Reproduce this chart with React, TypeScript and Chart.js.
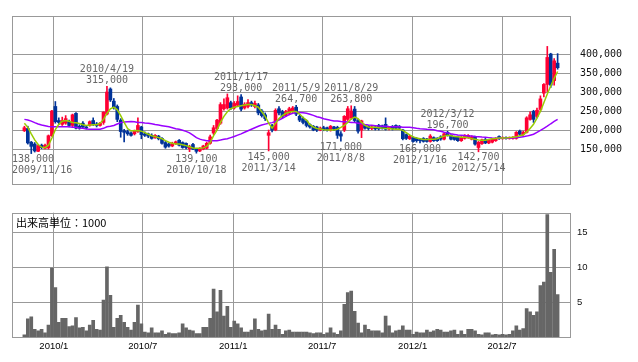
import React, { useEffect, useRef } from "react";
import { Chart, registerables } from "chart.js";

Chart.register(...registerables);

// Weekly candles, first week 2009/11/2 (index 0). Prices in 1,000 yen.
const openK = [
  198, 204, 168, 163, 144, 160, 152, 153, 185, 262,
  225, 215, 218, 222, 212, 244, 210, 218, 208, 212,
  225, 216, 212, 220, 242, 308, 276, 262, 226, 198,
  196, 192, 190, 196, 208, 190, 190, 186, 180, 184,
  178, 167, 163, 158, 164, 173, 167, 165, 151, 162,
  150, 145, 150, 152, 165, 192, 204, 218, 256, 258,
  272, 258, 265, 287, 258, 262, 272, 262, 266, 250,
  240, 186, 212, 200, 256, 248, 238, 244, 250, 260,
  236, 230, 224, 214, 210, 208, 200, 206, 206, 200,
  208, 207, 190, 200, 228, 232, 255, 225, 200, 212,
  210, 204, 208, 212, 211, 215, 203, 209, 212, 210,
  200, 188, 177, 180, 178, 175, 178, 176, 170, 180,
  178, 182, 176, 194, 186, 182, 182, 172, 178, 180,
  176, 182, 154, 164, 175, 166, 168, 172, 183, 177,
  180, 178, 178, 178, 197, 188, 194, 228, 249, 236,
  254, 297, 320, 400, 330, 376,
];
const highK = [
  210, 210, 170, 167, 161, 163, 163, 187, 252, 275,
  232, 234, 238, 226, 242, 246, 214, 222, 212, 224,
  232, 220, 220, 248, 315, 311, 283, 266, 230, 202,
  200, 195, 200, 232, 210, 195, 192, 190, 188, 186,
  180, 170, 165, 168, 171, 175, 169, 166, 160, 165,
  152, 154, 160, 168, 187, 212, 228, 272, 282, 295,
  276, 275, 290, 293, 272, 280, 276, 276, 270, 254,
  245, 200, 215, 256, 262, 252, 252, 260, 262, 264.7,
  240, 234, 226, 216, 212, 210, 208, 210, 208, 212,
  210, 210, 196, 238, 262, 263.8, 262, 228, 226, 215,
  212, 210, 212, 215, 213, 232, 210, 212, 214, 212,
  202, 190, 186, 182, 180, 178, 180, 178, 188, 182,
  180, 185, 192, 196.7, 188, 184, 184, 183, 188, 188,
  185, 184, 170, 176, 178, 175, 178, 180, 185, 182,
  182, 182, 183, 196, 200, 197, 235, 248, 252, 258,
  290, 322, 420, 402, 388, 401,
];
const lowK = [
  196, 163, 138, 142, 143, 151, 150, 150, 183, 218,
  214, 212, 215, 208, 209, 203, 202, 205, 203, 210,
  212, 208, 210, 215, 240, 275, 255, 222, 181, 169,
  186, 184, 187, 194, 177, 183, 180, 176, 178, 174,
  163, 152, 155, 156, 162, 158, 152, 150, 143, 148,
  139.1, 143, 148, 150, 163, 188, 200, 215, 252, 255,
  254, 255, 262, 250, 255, 258, 262, 258, 240, 234,
  225, 145, 195, 198, 240, 232, 235, 240, 246, 238,
  222, 216, 208, 205, 198, 196, 198, 198, 197, 197,
  198, 178, 171, 196, 225, 228, 220, 192, 180, 202,
  200, 201, 200, 200, 202, 200, 200, 200, 202, 202,
  174, 175, 175, 168, 168, 166, 168, 168, 168, 170,
  170, 173, 174, 184, 174, 173, 170, 170, 176, 178,
  174, 160, 142.7, 162, 164, 164, 166, 170, 175, 176,
  176, 176, 176, 176, 186, 186, 192, 226, 220, 232,
  250, 287, 300, 312, 318, 360,
];
const closeK = [
  206, 166, 157, 145, 159, 154, 160, 185, 250, 222,
  220, 225, 230, 212, 240, 205, 205, 208, 205, 222,
  215, 212, 218, 247, 300, 279, 260, 228, 196, 194,
  190, 186, 198, 212, 188, 186, 184, 178, 186, 177,
  165, 155, 158, 165, 169, 160, 154, 154, 157, 150,
  144, 152, 158, 165, 182, 206, 226, 267, 267, 285,
  258, 270, 275, 255, 268, 272, 266, 270, 245, 238,
  230, 193, 200, 252, 245, 236, 248, 256, 258, 242,
  226, 220, 212, 208, 200, 200, 205, 201, 200, 210,
  203, 186, 184, 236, 256, 250, 225, 197, 224, 205,
  204, 208, 203, 203, 205, 202, 208, 203, 205, 205,
  177, 178, 184, 170, 172, 172, 170, 170, 184, 172,
  172, 176, 190, 186, 176, 175, 172, 180, 186, 186,
  182, 163, 168, 174, 166, 173, 176, 178, 177, 180,
  178, 180, 181, 194, 189, 194, 232, 240, 228, 252,
  282, 320, 391, 318, 382, 364,
];
// 13-week moving average (green) in 1,000 yen
const ma13K = [
  218, 207, 190, 174, 162, 155, 153.5, 160, 179, 201,
  215, 223, 225, 223, 220, 219, 217, 214, 212, 213,
  214, 214, 218, 228, 244, 256, 260, 253, 238, 220,
  204, 198, 198, 199, 197, 193, 189, 185, 183, 180,
  177, 172, 168, 165, 163, 163, 161, 159, 156, 153,
  152, 152, 153, 157, 167, 185, 200, 220, 236, 248,
  256, 260, 262, 264, 266, 267, 267, 264, 260, 248,
  236, 218, 205, 218, 230, 238, 244, 247, 249, 249,
  242, 233, 226, 214, 208, 204, 203, 201, 200, 200,
  200, 202, 207, 212, 220, 229, 234, 230, 220, 212,
  208, 207, 207, 206, 205, 204, 204, 203, 202, 202,
  199, 193, 187, 182, 179, 177, 175, 175, 176, 176,
  177, 181, 184, 186, 185, 183, 182, 181, 181, 180,
  177, 176, 174, 173, 173, 175, 177, 178, 179, 179,
  179, 180, 181, 182, 185, 187, 195, 204, 215, 231,
  249, 272, 295, 316, 336, 354,
];
// 26-week moving average (purple) in 1,000 yen
const ma26K = [
  228, 226.5, 223.5, 219.5, 216, 213, 211, 209, 208.5, 208.5,
  208.5, 208.5, 208.5, 208.5, 207.5, 207, 205, 204.5, 203, 202,
  202, 202, 202, 204.5, 208.5, 210, 212, 216, 219.5, 221,
  222, 222.5, 222, 220, 219.5, 218.5, 218, 216.5, 214.5, 213,
  211.5, 210, 208.5, 206, 203.5, 202, 199.5, 196.5, 192.5, 186.5,
  180, 176, 173.5, 172, 171.5, 171.5, 172, 173.5, 175.5, 177,
  180, 183, 186.5, 190, 194, 198, 202, 206, 210, 213,
  215.5, 218, 219.5, 222.5, 226.5, 231, 236, 240.5, 244, 246,
  246, 245.5, 244, 241.5, 238.5, 235, 233, 229.5, 227.5, 225.5,
  224, 223.5, 222.5, 222, 221, 220, 219.5, 218, 216.5, 214.5,
  213, 212.5, 211.5, 210.5, 210, 210, 209, 208.5, 208.5, 208.5,
  207.5, 207.5, 207, 206, 204.5, 203.5, 203, 202, 201.5, 200.5,
  198, 196.5, 194, 192.5, 190, 188.5, 187, 186.5, 185.5, 184.5,
  184, 183, 182.5, 181.5, 181, 180, 179, 178.5, 178.5, 178.5,
  178.5, 179, 179, 180, 181, 182.5, 184, 186.5, 189, 194,
  199, 204.5, 210, 216.5, 222.5, 228,
];
// Weekly volume, unit 1,000
const volume = [
  0.3, 2.6, 2.9, 1.1, 0.9, 1.1, 0.6, 1.7, 9.9, 7.1,
  2.1, 2.7, 2.7, 1.5, 1.6, 2.8, 1.3, 1.4, 0.9, 1.7,
  2.4, 1.1, 1.0, 5.3, 10.1, 6.0, 1.4, 2.7, 3.1, 2.1,
  1.4, 1.0, 2.1, 4.6, 1.9, 0.7, 0.6, 1.3, 0.6, 0.6,
  0.9, 0.4, 0.6, 0.5, 0.5, 0.6, 1.9, 1.3, 1.0, 0.9,
  0.5, 0.5, 1.4, 1.4, 2.7, 6.9, 3.6, 6.7, 3.0, 4.4,
  1.4, 2.3, 1.9, 1.3, 0.7, 0.7, 1.0, 2.6, 1.1, 0.9,
  1.0, 3.3, 1.1, 1.7, 1.1, 0.4, 0.9, 1.0, 0.7, 0.7,
  0.7, 0.7, 0.7, 0.6, 0.5, 0.6, 0.6, 0.4, 0.6, 1.3,
  0.6, 0.4, 0.9, 4.7, 6.4, 6.6, 3.7, 2.0, 0.6, 1.7,
  1.1, 0.9, 0.9, 0.9, 0.6, 3.0, 1.6, 0.6, 0.9, 1.0,
  1.6, 1.0, 1.0, 0.4, 0.7, 0.6, 0.6, 1.0, 0.7, 0.9,
  1.1, 1.0, 0.7, 0.7, 0.9, 1.0, 0.4, 0.9, 0.4, 1.1,
  1.1, 0.9, 0.4, 0.3, 0.6, 0.6, 0.3, 0.4, 0.3, 0.4,
  0.3, 0.4, 0.9, 1.6, 1.0, 1.2, 4.1, 3.6, 3.1, 3.6,
  7.4, 7.9, 17.6, 9.3, 12.6, 6.1,
];

const priceTicks = [150000, 200000, 250000, 300000, 350000, 400000];
const volumeTicks = [5, 10, 15];
const monthTickLabels = ["2010/1", "2010/7", "2011/1", "2011/7", "2012/1", "2012/7"];
const peakDates = [
  "2009/11/16", "2010/4/19", "2010/10/18", "2011/1/17", "2011/3/14", "2011/5/9",
  "2011/8/8", "2011/8/29", "2012/1/16", "2012/3/12", "2012/5/14",
];
const peakKinds = ["low", "high", "low", "high", "low", "high", "low", "high", "low", "high", "low"];

const FIRST_WEEK = Date.UTC(2009, 10, 2);
const WEEK_MS = 7 * 24 * 3600 * 1000;
const weekIndexOf = (s: string) => {
  const [y, m, d] = s.split("/").map(Number);
  return (Date.UTC(y, m - 1, d) - FIRST_WEEK) / WEEK_MS;
};
const monthTickPos = monthTickLabels.map((l) => weekIndexOf(l + "/1"));

const UP = "#ff0033";
const DOWN = "#003399";
const GRID = "#999999";
const X_MIN = -3.6;
const X_MAX = 158.6;
const idx = openK.map((_, i) => i);

const candleColor = (c: any) => {
  const i = c.dataIndex;
  if (i === undefined) return UP;
  return closeK[i] >= openK[i] ? UP : DOWN;
};

const framePlugin = {
  id: "frame",
  afterDraw(chart: any) {
    const { ctx, chartArea: a } = chart;
    ctx.save();
    ctx.strokeStyle = GRID;
    ctx.lineWidth = 1;
    ctx.strokeRect(Math.round(a.left) + 0.5, Math.round(a.top) + 0.5, Math.round(a.right - a.left), Math.round(a.bottom - a.top));
    ctx.restore();
  },
};

const peakPlugin = {
  id: "peaks",
  afterDatasetsDraw(chart: any) {
    const { ctx, chartArea: a, scales } = chart;
    const xs = scales.x;
    const ys = scales.y;
    ctx.save();
    ctx.font = "10px 'DejaVu Sans Mono', monospace";
    ctx.fillStyle = "#666666";
    ctx.textBaseline = "middle";
    ctx.textAlign = "left";
    peakDates.forEach((d, k) => {
      const i = Math.round(weekIndexOf(d));
      const isHigh = peakKinds[k] === "high";
      const v = Math.round((isHigh ? highK[i] : lowK[i]) * 1000);
      const px = xs.getPixelForValue(i);
      const py = ys.getPixelForValue(v);
      const vt = v.toLocaleString("en-US");
      const lines: [string, number][] = isHigh
        ? [[d, py - 17], [vt, py - 6]]
        : [[vt, py + 6], [d, py + 17]];
      for (const [t, ty] of lines) {
        const w = ctx.measureText(t).width;
        const lx = Math.max(a.left, px - w / 2);
        ctx.fillText(t, lx, ty);
      }
    });
    ctx.restore();
  },
};

const captionPlugin = {
  id: "caption",
  afterDatasetsDraw(chart: any) {
    const { ctx, chartArea: a } = chart;
    ctx.save();
    ctx.font = "11px 'Noto Sans CJK JP', sans-serif";
    ctx.fillStyle = "#000000";
    ctx.textBaseline = "middle";
    ctx.textAlign = "left";
    ctx.fillText("出来高単位：1000", a.left + 4, a.top + 10);
    ctx.restore();
  },
};

const xAxis = (showLabels: boolean) => ({
  type: "linear",
  min: X_MIN,
  max: X_MAX,
  offset: false,
  grid: { color: GRID, lineWidth: 1, drawTicks: false, offset: false },
  border: { display: false },
  afterBuildTicks: (s: any) => {
    s.ticks = monthTickPos.map((v) => ({ value: v }));
  },
  ticks: {
    display: showLabels,
    autoSkip: false,
    maxRotation: 0,
    padding: 4,
    color: "#000000",
    font: { family: "'Liberation Sans', Arial, sans-serif", size: 9.5 },
    callback: (_v: any, i: number) => monthTickLabels[i],
  },
  afterFit: (s: any) => {
    s.height = showLabels ? 25 : 0;
  },
});

export default function App() {
  const topRef = useRef<HTMLCanvasElement>(null);
  const botRef = useRef<HTMLCanvasElement>(null);

  useEffect(() => {
    const price = new Chart(topRef.current as HTMLCanvasElement, {
      type: "bar",
      data: {
        datasets: [
          {
            type: "line",
            data: idx.map((i) => ({ x: i, y: ma26K[i] * 1000 })),
            borderColor: "#9900ff",
            borderWidth: 1.5,
            pointRadius: 0,
            tension: 0,
            fill: false,
            order: 0,
          },
          {
            type: "line",
            data: idx.map((i) => ({ x: i, y: ma13K[i] * 1000 })),
            borderColor: "#99cc00",
            borderWidth: 1.5,
            pointRadius: 0,
            tension: 0,
            fill: false,
            order: -1,
          },
          {
            type: "bar",
            data: idx.map((i) => ({ x: i, y: [openK[i] * 1000, closeK[i] * 1000] })),
            backgroundColor: candleColor,
            borderWidth: 0,
            barThickness: 3,
            grouped: false,
            order: 1,
          },
          {
            type: "bar",
            data: idx.map((i) => ({ x: i, y: [lowK[i] * 1000, highK[i] * 1000] })),
            backgroundColor: candleColor,
            borderWidth: 0,
            barThickness: 1,
            grouped: false,
            order: 2,
          },
        ] as any,
      },
      options: {
        responsive: false,
        maintainAspectRatio: false,
        animation: false,
        devicePixelRatio: 1,
        events: [],
        layout: { padding: { left: 12, top: 10, right: 0, bottom: 3 } },
        plugins: { legend: { display: false }, tooltip: { enabled: false } },
        scales: {
          x: xAxis(false) as any,
          y: {
            type: "linear",
            position: "right",
            min: 58000,
            max: 500000,
            grid: { color: GRID, lineWidth: 1, drawTicks: false },
            border: { display: false },
            afterBuildTicks: (s: any) => {
              s.ticks = priceTicks.map((v) => ({ value: v }));
            },
            ticks: {
              padding: 10,
              color: "#111111",
              font: { family: "'DejaVu Sans Mono', monospace", size: 10 },
              callback: (v: any) => Number(v).toLocaleString("en-US"),
            },
            afterFit: (s: any) => {
              s.width = 68;
            },
          } as any,
        },
      },
      plugins: [framePlugin, peakPlugin],
    });

    const vol = new Chart(botRef.current as HTMLCanvasElement, {
      type: "bar",
      data: {
        datasets: [
          {
            data: idx.map((i) => ({ x: i, y: volume[i] })),
            backgroundColor: "#666666",
            borderWidth: 0,
            barThickness: 3,
            grouped: false,
          },
        ] as any,
      },
      options: {
        responsive: false,
        maintainAspectRatio: false,
        animation: false,
        devicePixelRatio: 1,
        events: [],
        layout: { padding: { left: 12, top: 12, right: 0, bottom: 0 } },
        plugins: { legend: { display: false }, tooltip: { enabled: false } },
        scales: {
          x: xAxis(true) as any,
          y: {
            type: "linear",
            position: "right",
            min: 0,
            max: 17.86,
            grid: { color: GRID, lineWidth: 1, drawTicks: false },
            border: { display: false },
            afterBuildTicks: (s: any) => {
              s.ticks = volumeTicks.map((v) => ({ value: v }));
            },
            ticks: {
              padding: 7,
              color: "#111111",
              font: { family: "'Liberation Sans', Arial, sans-serif", size: 9.5 },
              callback: (v: any) => String(v),
            },
            afterFit: (s: any) => {
              s.width = 68;
            },
          } as any,
        },
      },
      plugins: [framePlugin, captionPlugin],
    });

    return () => {
      price.destroy();
      vol.destroy();
    };
  }, []);

  return (
    <div style={{ position: "fixed", left: 0, top: 0, width: 638, height: 362, background: "#ffffff" }}>
      <canvas ref={topRef} width={638} height={200} style={{ position: "absolute", left: 0, top: 0 }} />
      <canvas ref={botRef} width={638} height={162} style={{ position: "absolute", left: 0, top: 200 }} />
    </div>
  );
}
